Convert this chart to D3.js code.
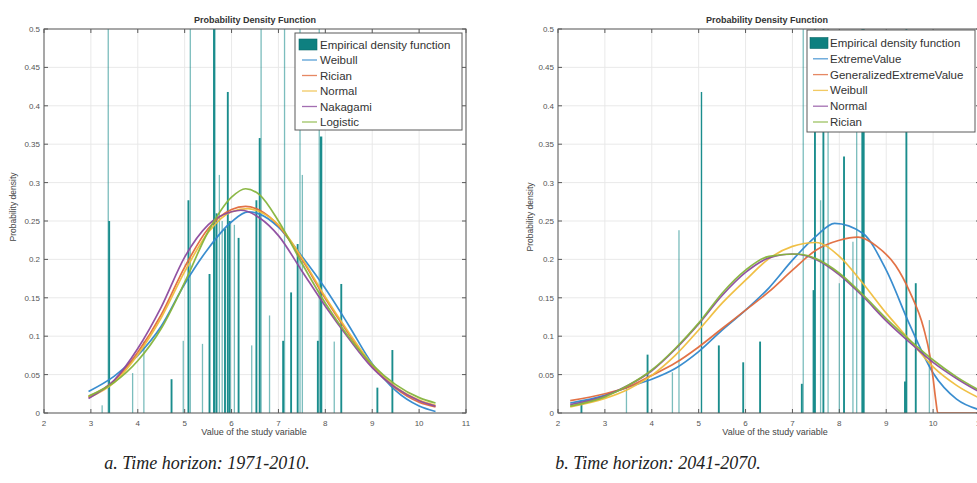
<!DOCTYPE html>
<html>
<head>
<meta charset="utf-8">
<script src="https://cdn.jsdelivr.net/npm/d3@7"></script>
<style>
  body { margin: 0; background: #fff; }
  svg { display: block; }
  text { font-family: "Liberation Sans", Arial, sans-serif; }
  text.caption { font-family: "Liberation Serif", "DejaVu Serif", serif; font-style: italic; }
</style>
</head>
<body>
<svg id="chart" width="977" height="483"></svg>
<script>
// ---- axis ticks -----------------------------------------------------------
const xTicks = [2, 3, 4, 5, 6, 7, 8, 9, 10, 11];
const yTicks = [0, 0.05, 0.1, 0.15, 0.2, 0.25, 0.3, 0.35, 0.4, 0.45, 0.5];

// ---- panel a: 1971-2010 ---------------------------------------------------
// empirical density: [value, density, bin width]
const empiricalA = [
  [3.24, 0.010, 0.02], [3.37, 0.55, 0.02], [3.39, 0.250, 0.04], [3.89, 0.052, 0.02],
  [4.13, 0.093, 0.02], [4.72, 0.044, 0.04], [4.97, 0.094, 0.02], [5.08, 0.277, 0.04],
  [5.12, 0.55, 0.02], [5.38, 0.090, 0.02], [5.53, 0.181, 0.04], [5.63, 0.55, 0.05],
  [5.68, 0.260, 0.04], [5.74, 0.310, 0.02], [5.80, 0.250, 0.02], [5.86, 0.240, 0.04],
  [5.92, 0.418, 0.04], [5.96, 0.250, 0.04], [6.06, 0.245, 0.02], [6.15, 0.228, 0.04],
  [6.43, 0.088, 0.02], [6.53, 0.277, 0.04], [6.60, 0.358, 0.04], [6.63, 0.55, 0.02],
  [6.81, 0.127, 0.02], [7.10, 0.094, 0.04], [7.13, 0.55, 0.02], [7.27, 0.157, 0.04],
  [7.41, 0.220, 0.04], [7.46, 0.55, 0.02], [7.51, 0.310, 0.02], [7.84, 0.094, 0.04],
  [7.87, 0.55, 0.02], [7.91, 0.360, 0.05], [8.19, 0.093, 0.02], [8.34, 0.168, 0.04],
  [9.11, 0.033, 0.04], [9.43, 0.082, 0.04]
];
const weibullA = [[2.95,0.028],[3.5,0.048],[4,0.075],[4.5,0.113],[5,0.168],[5.5,0.214],[6,0.249],[6.35,0.262],[6.6,0.259],[7,0.242],[7.5,0.204],[8,0.162],[8.5,0.114],[9,0.064],[9.5,0.029],[10,0.009],[10.35,0.002]];
const ricianA = [[2.95,0.021],[3.5,0.042],[4,0.079],[4.5,0.128],[5,0.19],[5.5,0.24],[6,0.265],[6.3,0.269],[6.6,0.264],[7,0.244],[7.5,0.2],[8,0.149],[8.5,0.103],[9,0.061],[9.5,0.032],[10,0.014],[10.35,0.008]];
const normalA = [[2.95,0.02],[3.5,0.04],[4,0.076],[4.5,0.124],[5,0.184],[5.5,0.235],[6,0.262],[6.35,0.266],[6.6,0.262],[7,0.245],[7.5,0.202],[8,0.151],[8.5,0.105],[9,0.063],[9.5,0.034],[10,0.017],[10.35,0.01]];
const nakagamiA = [[2.95,0.019],[3.5,0.043],[4,0.084],[4.5,0.138],[5,0.203],[5.5,0.245],[6,0.262],[6.2,0.264],[6.6,0.254],[7,0.231],[7.5,0.185],[8,0.139],[8.5,0.097],[9,0.059],[9.5,0.033],[10,0.016],[10.35,0.009]];
const logisticA = [[2.95,0.022],[3.5,0.04],[4,0.068],[4.5,0.11],[5,0.17],[5.5,0.236],[6,0.281],[6.3,0.292],[6.6,0.284],[7,0.25],[7.5,0.195],[8,0.143],[8.5,0.099],[9,0.063],[9.5,0.037],[10,0.02],[10.35,0.013]];
const legendA = ["Empirical density function", "Weibull", "Rician", "Normal", "Nakagami", "Logistic"];
const captionA = "a. Time horizon: 1971-2010.";

// ---- panel b: 2041-2070 ---------------------------------------------------
const empiricalB = [
  [2.50, 0.012, 0.04], [3.46, 0.033, 0.02], [3.91, 0.076, 0.04], [4.44, 0.053, 0.02],
  [4.58, 0.238, 0.02], [5.06, 0.418, 0.03], [5.43, 0.088, 0.04], [5.95, 0.066, 0.04],
  [6.31, 0.093, 0.04], [7.20, 0.038, 0.04], [7.23, 0.55, 0.02], [7.45, 0.160, 0.04],
  [7.48, 0.55, 0.04], [7.60, 0.277, 0.02], [7.66, 0.55, 0.04], [7.76, 0.55, 0.02],
  [8.00, 0.169, 0.02], [8.10, 0.334, 0.04], [8.29, 0.223, 0.02], [8.37, 0.370, 0.02],
  [8.49, 0.55, 0.04], [8.52, 0.55, 0.04], [9.40, 0.041, 0.04], [9.43, 0.55, 0.04],
  [9.63, 0.169, 0.04], [9.92, 0.121, 0.02]
];
const extremeValueB = [[2.26,0.013],[3,0.023],[3.5,0.034],[4,0.044],[4.5,0.058],[5,0.08],[5.5,0.108],[6,0.134],[6.5,0.163],[7,0.199],[7.5,0.23],[7.9,0.247],[8.5,0.234],[9,0.186],[9.5,0.115],[10,0.052],[10.5,0.018],[11,0.004]];
const genExtremeValueB = [[2.26,0.016],[3,0.025],[3.5,0.034],[4,0.049],[4.5,0.065],[5,0.086],[5.5,0.11],[6,0.134],[6.5,0.158],[7,0.186],[7.5,0.212],[8,0.225],[8.4,0.229],[8.8,0.217],[9.2,0.192],[9.5,0.158],[9.8,0.11],[9.93,0.075],[10,0.045],[10.06,0.015],[10.1,0],[11,0]];
const weibullB = [[2.26,0.008],[3,0.019],[3.5,0.031],[4,0.049],[4.5,0.075],[5,0.108],[5.5,0.143],[6,0.173],[6.5,0.201],[7,0.217],[7.5,0.222],[8,0.204],[8.5,0.169],[9,0.13],[9.5,0.095],[10,0.06],[10.5,0.036],[11,0.019]];
const normalB = [[2.26,0.011],[3,0.022],[3.5,0.036],[4,0.055],[4.5,0.083],[5,0.116],[5.5,0.153],[6,0.183],[6.5,0.202],[7,0.207],[7.5,0.2],[8,0.18],[8.5,0.152],[9,0.12],[9.5,0.092],[10,0.066],[10.5,0.045],[11,0.027]];
const ricianB = [[2.26,0.009],[3,0.021],[3.5,0.036],[4,0.056],[4.5,0.084],[5,0.117],[5.5,0.156],[6,0.186],[6.5,0.204],[7.1,0.207],[7.5,0.201],[8,0.182],[8.5,0.154],[9,0.123],[9.5,0.095],[10,0.069],[10.5,0.047],[11,0.029]];
const legendB = ["Empirical density function", "ExtremeValue", "GeneralizedExtremeValue", "Weibull", "Normal", "Rician"];
const captionB = "b. Time horizon: 2041-2070.";

// ---- shared text ----------------------------------------------------------
const titleText = "Probability Density Function";
const xLabelText = "Value of the study variable";
const yLabelText = "Probability density";

// ---- styling ---------------------------------------------------------------
const barColor = "#0f8787";
const lineColors = ["#2f87cc", "#e06a3c", "#efbd3c", "#8c4a9e", "#86b43c"];
const axisColor = "#5a5a5a";
const gridColor = "#e6e6e6";

const svg = d3.select("#chart");

const panels = [
  {
    id: "a", bars: empiricalA,
    curves: [weibullA, ricianA, normalA, nakagamiA, logisticA],
    names: legendA, caption: captionA,
    left: 44, right: 466, top: 29, bottom: 413,
    legend: { x: 295, y: 33, w: 167, h: 97, row0: 44.5, step: 15.5, patchX: 299, textX: 320 },
    yLabelX: 16, yLabelY: 207, xLabelX: 254, captionX: 207
  },
  {
    id: "b", bars: empiricalB,
    curves: [extremeValueB, genExtremeValueB, weibullB, normalB, ricianB],
    names: legendB, caption: captionB,
    left: 558, right: 980, top: 29, bottom: 413,
    legend: { x: 807, y: 30, w: 168, h: 102, row0: 43, step: 15.8, patchX: 810, textX: 830 },
    yLabelX: 533, yLabelY: 217, xLabelX: 775, captionX: 658
  }
];

panels.forEach(p => {
  const x = d3.scaleLinear().domain([2, 11]).range([p.left, p.right]);
  const y = d3.scaleLinear().domain([0, 0.5]).range([p.bottom, p.top]);
  const g = svg.append("g");

  const clipId = "clip-" + p.id;
  svg.append("clipPath").attr("id", clipId)
    .append("rect")
    .attr("x", p.left).attr("y", p.top)
    .attr("width", p.right - p.left).attr("height", p.bottom - p.top);

  // grid
  g.append("g").selectAll("line").data(xTicks).join("line")
    .attr("x1", d => x(d)).attr("x2", d => x(d))
    .attr("y1", p.top).attr("y2", p.bottom)
    .attr("stroke", gridColor).attr("stroke-width", 0.9);
  g.append("g").selectAll("line").data(yTicks).join("line")
    .attr("x1", p.left).attr("x2", p.right)
    .attr("y1", d => y(d)).attr("y2", d => y(d))
    .attr("stroke", gridColor).attr("stroke-width", 0.9);

  const plot = g.append("g").attr("clip-path", `url(#${clipId})`);

  // empirical density bars
  const barW = d => Math.max(1.3, x(d[2]) - x(0));
  plot.append("g").selectAll("rect").data(p.bars).join("rect")
    .attr("x", d => x(d[0]) - barW(d) / 2)
    .attr("width", barW)
    .attr("y", d => y(d[1]))
    .attr("height", d => y(0) - y(d[1]))
    .attr("fill", barColor)
    .attr("fill-opacity", d => d[2] < 0.03 ? 0.55 : 0.95);

  // fitted distributions
  const line = d3.line().x(d => x(d[0])).y(d => y(d[1])).curve(d3.curveMonotoneX);
  p.curves.forEach((c, i) => {
    plot.append("path").datum(c)
      .attr("d", line)
      .attr("fill", "none")
      .attr("stroke", lineColors[i])
      .attr("stroke-width", 1.7)
      .attr("stroke-opacity", 0.95);
  });

  // axis box with inward ticks on all sides
  const axisG = g.append("g").attr("stroke", axisColor).attr("stroke-width", 1);
  axisG.append("rect")
    .attr("x", p.left).attr("y", p.top)
    .attr("width", p.right - p.left).attr("height", p.bottom - p.top)
    .attr("fill", "none");
  const tl = 4;
  xTicks.forEach(t => {
    axisG.append("line").attr("x1", x(t)).attr("x2", x(t)).attr("y1", p.bottom).attr("y2", p.bottom - tl);
    axisG.append("line").attr("x1", x(t)).attr("x2", x(t)).attr("y1", p.top).attr("y2", p.top + tl);
  });
  yTicks.forEach(t => {
    axisG.append("line").attr("x1", p.left).attr("x2", p.left + tl).attr("y1", y(t)).attr("y2", y(t));
    axisG.append("line").attr("x1", p.right).attr("x2", p.right - tl).attr("y1", y(t)).attr("y2", y(t));
  });

  // tick labels
  g.append("g").selectAll("text").data(xTicks).join("text")
    .attr("x", d => x(d)).attr("y", p.bottom + 13)
    .attr("text-anchor", "middle")
    .attr("font-size", 8).attr("fill", "#555")
    .text(d => d);
  g.append("g").selectAll("text").data(yTicks).join("text")
    .attr("x", p.left - 4).attr("y", d => y(d) + 3)
    .attr("text-anchor", "end")
    .attr("font-size", 8).attr("fill", "#555")
    .text(d => String(+d.toFixed(2)));

  // title and axis labels
  g.append("text")
    .attr("x", (p.left + p.right) / 2 + (p.id === "a" ? 0 : -2)).attr("y", 23)
    .attr("text-anchor", "middle").attr("font-size", 9).attr("font-weight", "bold")
    .attr("fill", "#333")
    .text(titleText);
  g.append("text")
    .attr("x", p.xLabelX).attr("y", p.bottom + 22)
    .attr("text-anchor", "middle").attr("font-size", 9).attr("fill", "#444")
    .text(xLabelText);
  g.append("text")
    .attr("transform", `translate(${p.yLabelX},${p.yLabelY}) rotate(-90)`)
    .attr("text-anchor", "middle").attr("font-size", 8.5).attr("fill", "#444")
    .text(yLabelText);

  // legend
  const L = p.legend;
  const lg = g.append("g");
  lg.append("rect")
    .attr("x", L.x).attr("y", L.y).attr("width", L.w).attr("height", L.h)
    .attr("fill", "#fff").attr("stroke", axisColor).attr("stroke-width", 1);
  lg.append("rect")
    .attr("x", L.patchX).attr("y", L.row0 - 5.5).attr("width", 18).attr("height", 11)
    .attr("fill", "#0e8080").attr("stroke", "#0a6a6a").attr("stroke-width", 0.6);
  p.names.slice(1).forEach((n, i) => {
    const cy = L.row0 + L.step * (i + 1);
    lg.append("line")
      .attr("x1", L.patchX + 3).attr("x2", L.patchX + 18)
      .attr("y1", cy).attr("y2", cy)
      .attr("stroke", lineColors[i]).attr("stroke-width", 1.3).attr("stroke-opacity", 0.8);
  });
  lg.selectAll("text.lab").data(p.names).join("text")
    .attr("class", "lab")
    .attr("x", L.textX).attr("y", (d, i) => L.row0 + L.step * i + 4)
    .attr("font-size", 11.5).attr("fill", "#333")
    .text(d => d);

  // caption
  svg.append("text")
    .attr("class", "caption")
    .attr("x", p.captionX).attr("y", 469)
    .attr("text-anchor", "middle")
    .attr("font-size", 18).attr("fill", "#222")
    .text(p.caption);
});
</script>
</body>
</html>
